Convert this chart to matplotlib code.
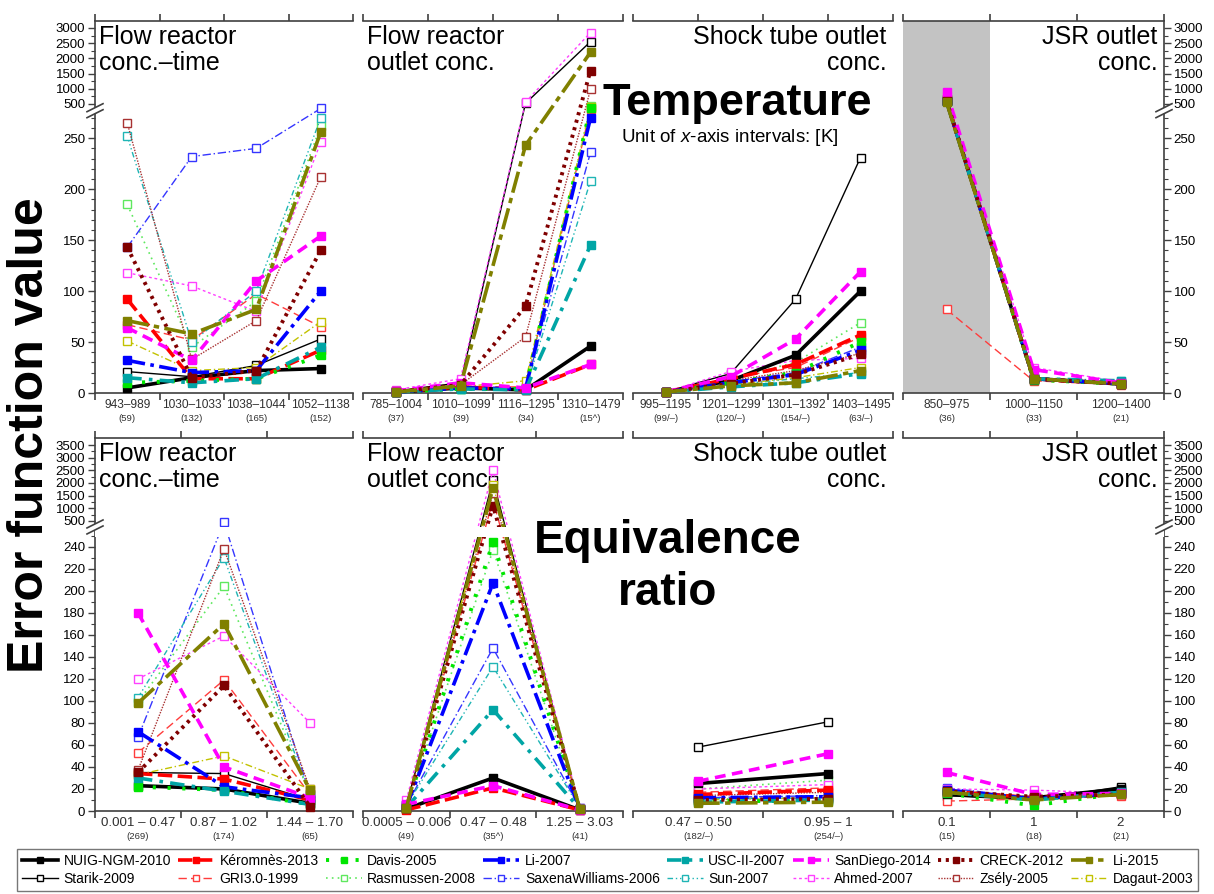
import numpy as np
import matplotlib
matplotlib.use('Agg')
import matplotlib.pyplot as plt
from matplotlib.lines import Line2D

plt.rcParams['font.family'] = ['Liberation Sans', 'DejaVu Sans']
plt.rcParams['mathtext.fontset'] = 'custom'
plt.rcParams['mathtext.rm'] = 'Liberation Sans'
plt.rcParams['mathtext.it'] = 'Liberation Sans:italic'

W, H = 1214, 894
AXIS_COLOR = '#404040'

# legend order (column-major: filled mechanism above its open partner)
MODELS = ["NUIG-NGM-2010", "Starik-2009", "Kéromnès-2013", "GRI3.0-1999",
          "Davis-2005", "Rasmussen-2008", "Li-2007", "SaxenaWilliams-2006",
          "USC-II-2007", "Sun-2007", "SanDiego-2014", "Ahmed-2007",
          "CRECK-2012", "Zsély-2005", "Li-2015", "Dagaut-2003"]

# ---- Temperature row ----
T_FLOW_TIME_CATS = ["943–989", "1030–1033", "1038–1044", "1052–1138"]
T_FLOW_TIME_N = ["(59)", "(132)", "(165)", "(152)"]
T_FLOW_TIME = {
    "NUIG-NGM-2010": [5, 15, 22, 24],
    "Starik-2009": [21, 16, 27, 53],
    "Kéromnès-2013": [92, 14, 14, 42],
    "GRI3.0-1999": [67, 52, 97, 65],
    "Davis-2005": [10, 12, 14, 37],
    "Rasmussen-2008": [185, 45, 90, 262],
    "Li-2007": [32, 20, 22, 100],
    "SaxenaWilliams-2006": [143, 232, 240, 350],
    "USC-II-2007": [15, 10, 14, 45],
    "Sun-2007": [252, 50, 100, 270],
    "SanDiego-2014": [64, 32, 110, 154],
    "Ahmed-2007": [118, 105, 80, 246],
    "CRECK-2012": [143, 15, 22, 140],
    "Zsély-2005": [265, 33, 71, 212],
    "Li-2015": [71, 58, 82, 256],
    "Dagaut-2003": [51, 22, 25, 70],
}

T_FLOW_OUT_CATS = ["785–1004", "1010–1099", "1116–1295", "1310–1479"]
T_FLOW_OUT_N = ["(37)", "(39)", "(34)", "(15^)"]
T_FLOW_OUT = {
    "NUIG-NGM-2010": [1, 5, 3, 46],
    "Starik-2009": [2, 10, 520, 2550],
    "Kéromnès-2013": [1, 6, 3, 28],
    "GRI3.0-1999": [2, 6, 6, 330],
    "Davis-2005": [1, 4, 4, 380],
    "Rasmussen-2008": [1, 5, 5, 420],
    "Li-2007": [1, 5, 4, 270],
    "SaxenaWilliams-2006": [1, 5, 5, 236],
    "USC-II-2007": [1, 4, 3, 145],
    "Sun-2007": [1, 4, 4, 208],
    "SanDiego-2014": [2, 10, 5, 28],
    "Ahmed-2007": [3, 14, 560, 2850],
    "CRECK-2012": [1, 8, 85, 1600],
    "Zsély-2005": [2, 8, 55, 980],
    "Li-2015": [1, 7, 243, 2200],
    "Dagaut-2003": [1, 6, 12, 400],
}

T_SHOCK_CATS = ["995–1195", "1201–1299", "1301–1392", "1403–1495"]
T_SHOCK_N = ["(99/–)", "(120/–)", "(154/–)", "(63/–)"]
T_SHOCK = {
    "NUIG-NGM-2010": [1, 12, 37, 100],
    "Starik-2009": [1, 19, 92, 231],
    "Kéromnès-2013": [1, 14, 28, 57],
    "GRI3.0-1999": [1, 15, 25, 55],
    "Davis-2005": [1, 10, 20, 50],
    "Rasmussen-2008": [1, 14, 30, 69],
    "Li-2007": [1, 10, 18, 42],
    "SaxenaWilliams-2006": [1, 11, 20, 45],
    "USC-II-2007": [1, 6, 10, 19],
    "Sun-2007": [1, 8, 14, 20],
    "SanDiego-2014": [1, 16, 53, 119],
    "Ahmed-2007": [1, 21, 32, 34],
    "CRECK-2012": [1, 9, 18, 38],
    "Zsély-2005": [1, 12, 22, 39],
    "Li-2015": [1, 7, 10, 22],
    "Dagaut-2003": [1, 8, 15, 25],
}

T_JSR_CATS = ["850–975", "1000–1150", "1200–1400"]
T_JSR_N = ["(36)", "(33)", "(21)"]
T_JSR = {
    "NUIG-NGM-2010": [600, 14, 9],
    "Starik-2009": [650, 15, 10],
    "Kéromnès-2013": [620, 14, 9],
    "GRI3.0-1999": [82, 12, 8],
    "Davis-2005": [610, 13, 9],
    "Rasmussen-2008": [620, 15, 10],
    "Li-2007": [600, 14, 9],
    "SaxenaWilliams-2006": [600, 15, 10],
    "USC-II-2007": [590, 14, 12],
    "Sun-2007": [610, 15, 12],
    "SanDiego-2014": [900, 23, 10],
    "Ahmed-2007": [750, 25, 11],
    "CRECK-2012": [610, 14, 9],
    "Zsély-2005": [590, 13, 9],
    "Li-2015": [560, 14, 9],
    "Dagaut-2003": [580, 14, 9],
}

# ---- Equivalence ratio row ----
E_FLOW_TIME_CATS = ["0.001 – 0.47", "0.87 – 1.02", "1.44 – 1.70"]
E_FLOW_TIME_N = ["(269)", "(174)", "(65)"]
E_FLOW_TIME = {
    "NUIG-NGM-2010": [23, 20, 7],
    "Starik-2009": [35, 34, 10],
    "Kéromnès-2013": [34, 29, 10],
    "GRI3.0-1999": [53, 119, 15],
    "Davis-2005": [22, 19, 6],
    "Rasmussen-2008": [99, 204, 15],
    "Li-2007": [72, 22, 12],
    "SaxenaWilliams-2006": [67, 450, 15],
    "USC-II-2007": [30, 18, 6],
    "Sun-2007": [103, 230, 14],
    "SanDiego-2014": [180, 40, 12],
    "Ahmed-2007": [120, 159, 80],
    "CRECK-2012": [35, 114, 4],
    "Zsély-2005": [37, 238, 20],
    "Li-2015": [98, 170, 19],
    "Dagaut-2003": [33, 50, 20],
}

E_FLOW_OUT_CATS = ["0.0005 – 0.006", "0.47 – 0.48", "1.25 – 3.03"]
E_FLOW_OUT_N = ["(49)", "(35^)", "(41)"]
E_FLOW_OUT = {
    "NUIG-NGM-2010": [2, 30, 1],
    "Starik-2009": [5, 2100, 2],
    "Kéromnès-2013": [1, 21, 1],
    "GRI3.0-1999": [3, 1300, 2],
    "Davis-2005": [3, 244, 2],
    "Rasmussen-2008": [4, 237, 2],
    "Li-2007": [4, 207, 2],
    "SaxenaWilliams-2006": [5, 148, 3],
    "USC-II-2007": [3, 92, 2],
    "Sun-2007": [5, 131, 3],
    "SanDiego-2014": [6, 23, 1],
    "Ahmed-2007": [10, 2500, 3],
    "CRECK-2012": [3, 1100, 2],
    "Zsély-2005": [4, 1600, 2],
    "Li-2015": [3, 1800, 2],
    "Dagaut-2003": [3, 1900, 2],
}

E_SHOCK_CATS = ["0.47 – 0.50", "0.95 – 1"]
E_SHOCK_N = ["(182/–)", "(254/–)"]
E_SHOCK = {
    "NUIG-NGM-2010": [25, 34],
    "Starik-2009": [58, 81],
    "Kéromnès-2013": [15, 19],
    "GRI3.0-1999": [17, 21],
    "Davis-2005": [9, 9],
    "Rasmussen-2008": [20, 28],
    "Li-2007": [12, 13],
    "SaxenaWilliams-2006": [12, 14],
    "USC-II-2007": [8, 10],
    "Sun-2007": [11, 12],
    "SanDiego-2014": [27, 52],
    "Ahmed-2007": [20, 24],
    "CRECK-2012": [10, 11],
    "Zsély-2005": [14, 17],
    "Li-2015": [7, 8],
    "Dagaut-2003": [10, 12],
}

E_JSR_CATS = ["0.1", "1", "2"]
E_JSR_N = ["(15)", "(18)", "(21)"]
E_JSR = {
    "NUIG-NGM-2010": [15, 12, 20],
    "Starik-2009": [14, 10, 22],
    "Kéromnès-2013": [18, 12, 15],
    "GRI3.0-1999": [9, 11, 14],
    "Davis-2005": [16, 5, 16],
    "Rasmussen-2008": [20, 12, 18],
    "Li-2007": [19, 11, 16],
    "SaxenaWilliams-2006": [21, 12, 18],
    "USC-II-2007": [17, 10, 17],
    "Sun-2007": [18, 11, 19],
    "SanDiego-2014": [35, 15, 16],
    "Ahmed-2007": [20, 19, 16],
    "CRECK-2012": [18, 13, 15],
    "Zsély-2005": [17, 12, 15],
    "Li-2015": [17, 10, 15],
    "Dagaut-2003": [16, 9, 16],
}

# line styles: thick + filled squares vs. thin + open squares
STYLE = {
    "NUIG-NGM-2010": ('#000000', '-', 2.6, True),
    "Kéromnès-2013": ('#ff0000', (0, (4, 1.5)), 2.6, True),
    "Davis-2005": ('#00e600', (0, (0.8, 3)), 2.8, True),
    "Li-2007": ('#0000ff', (0, (5, 1.5, 1, 1.5)), 2.6, True),
    "USC-II-2007": ('#00a5a5', (0, (4, 2, 1, 2)), 2.6, True),
    "SanDiego-2014": ('#ff00ff', (0, (3, 1.8)), 2.6, True),
    "CRECK-2012": ('#800000', (0, (0.8, 1.2)), 2.8, True),
    "Li-2015": ('#808000', (0, (6, 1.5, 1.5, 1.5)), 2.6, True),
    "Starik-2009": ('#000000', '-', 1.0, False),
    "GRI3.0-1999": ('#ff3c3c', (0, (6, 3)), 1.0, False),
    "Rasmussen-2008": ('#5ee85e', (0, (1, 2.5)), 1.2, False),
    "SaxenaWilliams-2006": ('#3535ff', (0, (6, 2, 1, 2)), 1.0, False),
    "Sun-2007": ('#1fb5b5', (0, (4, 2, 1, 2, 1, 2)), 1.0, False),
    "Ahmed-2007": ('#ff40ff', (0, (2, 2)), 1.0, False),
    "Zsély-2005": ('#a83232', (0, (1, 1)), 1.0, False),
    "Dagaut-2003": ('#c2c200', (0, (5, 2, 1, 2)), 1.0, False),
}

# panel rectangles in pixels
PANEL_X = [(95, 353), (363, 623), (633, 893), (903, 1164)]
ROWS = [
    dict(y=(21, 393), knee=277, ratio=0.0298, top=3230,
         major=[0, 50, 100, 150, 200, 250, 500, 1000, 1500, 2000, 2500, 3000],
         minor=[v for v in range(10, 280, 10) if v % 50] + [750, 1250, 1750, 2250, 2750],
         catsize=8.6, gap=None,
         panels=[(T_FLOW_TIME, T_FLOW_TIME_CATS, T_FLOW_TIME_N, "Flow reactor\nconc.–time", 'left'),
                 (T_FLOW_OUT, T_FLOW_OUT_CATS, T_FLOW_OUT_N, "Flow reactor\noutlet conc.", 'left'),
                 (T_SHOCK, T_SHOCK_CATS, T_SHOCK_N, "Shock tube outlet\nconc.", 'right'),
                 (T_JSR, T_JSR_CATS, T_JSR_N, "JSR outlet\nconc.", 'right')]),
    dict(y=(438, 811), knee=258, ratio=0.02294, top=3780,
         major=list(range(0, 260, 20)) + [500, 1000, 1500, 2000, 2500, 3000, 3500],
         minor=list(range(10, 260, 20)) + [750, 1250, 1750, 2250, 2750, 3250],
         catsize=9.6, gap=(249, 258),
         panels=[(E_FLOW_TIME, E_FLOW_TIME_CATS, E_FLOW_TIME_N, "Flow reactor\nconc.–time", 'left'),
                 (E_FLOW_OUT, E_FLOW_OUT_CATS, E_FLOW_OUT_N, "Flow reactor\noutlet conc.", 'left'),
                 (E_SHOCK, E_SHOCK_CATS, E_SHOCK_N, "Shock tube outlet\nconc.", 'right'),
                 (E_JSR, E_JSR_CATS, E_JSR_N, "JSR outlet\nconc.", 'right')]),
]


def make_scale(knee, ratio):
    def fwd(y):
        y = np.asarray(y, dtype=float)
        return np.where(y <= knee, y, knee + (y - knee) * ratio)

    def inv(u):
        u = np.asarray(u, dtype=float)
        return np.where(u <= knee, u, knee + (u - knee) / ratio)
    return fwd, inv


def px_rect(x0, x1, y0, y1):
    return [x0 / W, 1 - y1 / H, (x1 - x0) / W, (y1 - y0) / H]


def draw_break(ax, xside, yfrac, wpx, hpx):
    # "//" axis-break mark drawn across the vertical spine
    dx, dy, sep = 8 / wpx, 4 / hpx, 3 / hpx
    xs = [xside - dx, xside + dx]
    ax.fill([xs[0], xs[1], xs[1], xs[0]],
            [yfrac - dy - sep, yfrac + dy - sep, yfrac + dy + sep, yfrac - dy + sep],
            transform=ax.transAxes, color='white', clip_on=False, zorder=10, lw=0)
    for s in (-sep, sep):
        ax.plot(xs, [yfrac - dy + s, yfrac + dy + s], transform=ax.transAxes,
                color=AXIS_COLOR, lw=1.2, clip_on=False, zorder=11)


fig = plt.figure(figsize=(W / 100, H / 100), dpi=100)

for row in ROWS:
    fwd, inv = make_scale(row['knee'], row['ratio'])
    y0, y1 = row['y']
    for idx, ((x0, x1), (data, cats, counts, title, align)) in enumerate(zip(PANEL_X, row['panels'])):
        ax = fig.add_axes(px_rect(x0, x1, y0, y1))
        ax.set_yscale('function', functions=(fwd, inv))
        n = len(cats)
        xs = np.arange(n)

        for name in MODELS:
            color, ls, lw, filled = STYLE[name]
            ax.plot(xs, data[name], color=color, ls=ls, lw=lw, marker='s',
                    ms=5.8 if filled else 5.5, mfc=color if filled else 'white',
                    mec=color, mew=1.0, clip_on=False, zorder=4 if filled else 3)

        ax.set_xlim(-0.5, n - 0.5)
        ax.set_ylim(0, row['top'])

        if row is ROWS[0] and idx == 3:
            ax.axvspan(-0.5, 0.5, color='#c3c3c3', lw=0, zorder=0)
        if row['gap'] is not None:
            ax.axhspan(*row['gap'], color='white', lw=0, zorder=5)

        # category boundaries as ticks on bottom and top spines
        ax.set_xticks(np.arange(n + 1) - 0.5)
        ax.set_xticklabels([])
        ax.tick_params(axis='x', which='major', direction='out', top=True, bottom=True,
                       length=5, width=1.2, color=AXIS_COLOR)
        for i, (c, cnt) in enumerate(zip(cats, counts)):
            ax.annotate(c, xy=(i, 0), xycoords=('data', 'axes fraction'), xytext=(0, -4.5),
                        textcoords='offset points', ha='center', va='top',
                        fontsize=row['catsize'], color='#303030')
            ax.annotate(cnt, xy=(i, 0), xycoords=('data', 'axes fraction'), xytext=(0, -15),
                        textcoords='offset points', ha='center', va='top',
                        fontsize=6.8, color='#303030')

        for side in ('top', 'bottom', 'left', 'right'):
            ax.spines[side].set_color(AXIS_COLOR)
            ax.spines[side].set_linewidth(1.2)
        ax.spines['left'].set_visible(idx == 0)
        ax.spines['right'].set_visible(idx == 3)

        ax.set_yticks(row['major'])
        ax.set_yticks(row['minor'], minor=True)
        ax.tick_params(axis='y', which='major', direction='out', length=5, width=1.0,
                       color=AXIS_COLOR, labelsize=9.5, pad=2)
        ax.tick_params(axis='y', which='minor', direction='out', length=3, width=0.8,
                       color=AXIS_COLOR)
        yfrac = fwd(row['knee']) / fwd(row['top'])
        if idx == 0:
            ax.tick_params(axis='y', which='both', left=True, right=False,
                           labelleft=True, labelright=False)
            draw_break(ax, 0.0, yfrac, x1 - x0, y1 - y0)
        elif idx == 3:
            ax.tick_params(axis='y', which='both', left=False, right=True,
                           labelleft=False, labelright=True)
            draw_break(ax, 1.0, yfrac, x1 - x0, y1 - y0)
        else:
            ax.tick_params(axis='y', which='both', left=False, right=False,
                           labelleft=False, labelright=False)

        if align == 'left':
            ax.text(0.015, 0.99, title, transform=ax.transAxes, ha='left', va='top',
                    fontsize=18, linespacing=1.12, zorder=1)
        else:
            ax.text(0.975, 0.99, title, transform=ax.transAxes, ha='right', va='top',
                    multialignment='right', fontsize=18, linespacing=1.12, zorder=1)

# row headings and shared y label
fig.text(30 / W, 1 - 435 / H, 'Error function value', rotation=90, ha='center',
         va='center', fontsize=36, fontweight='bold')
fig.text(737 / W, 1 - 104 / H, 'Temperature', ha='center', va='center',
         fontsize=32.5, fontweight='bold')
fig.text(730 / W, 1 - 137 / H, 'Unit of $\\mathit{x}$-axis intervals: [K]', ha='center',
         va='center', fontsize=13.5)
fig.text(668 / W, 1 - 567 / H, 'Equivalence\nratio', ha='center', va='center',
         fontsize=33, fontweight='bold', linespacing=1.25)

handles = []
for name in MODELS:
    color, ls, lw, filled = STYLE[name]
    handles.append(Line2D([], [], color=color, ls=ls, lw=lw, marker='s', ms=5,
                          mfc=color if filled else 'white', mec=color, mew=1.0))
fig.legend(handles, MODELS, ncol=8, loc='center', mode='expand',
           bbox_to_anchor=(10 / W, 1 - 890 / H, 1195 / W, 40 / H),
           fontsize=10, frameon=True, fancybox=False, edgecolor='#555555',
           handlelength=2.6, handletextpad=0.4, columnspacing=0.5,
           labelspacing=0.25, borderpad=0.35, numpoints=1)

fig.savefig('out.png', dpi=100)
